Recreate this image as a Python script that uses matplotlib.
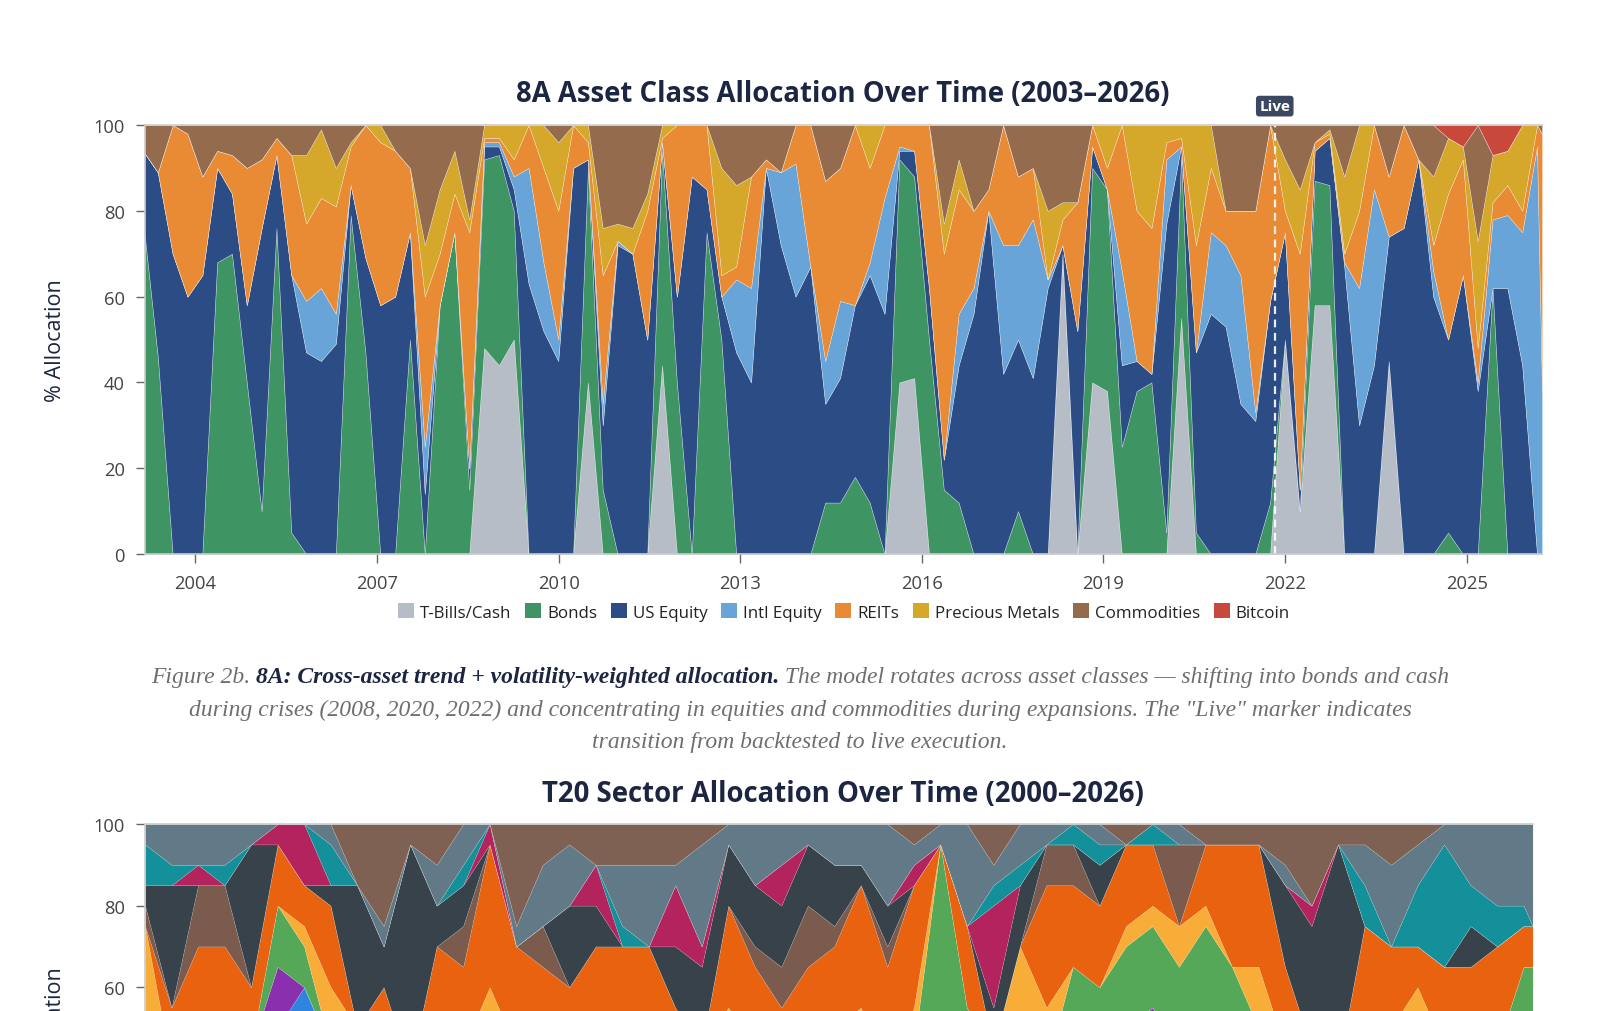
import numpy as np
import matplotlib
matplotlib.use("Agg")
import matplotlib.pyplot as plt
from matplotlib.patches import Patch

plt.rcParams['font.family'] = ['Open Sans', 'DejaVu Sans']

# ---------------- data: 8A asset-class allocation (%), quarterly-ish samples ----------------
years_top = np.append(2003.133 + 0.245 * np.arange(95), 2026.245)

cash = [0,0,0,0,0,0,0,0,0,0,
        0,0,0,0,0,0,0,0,0,0,
        0,0,0,48,44,50,0,0,0,0,
        40,0,0,0,0,44,0,0,0,0,
        0,0,0,0,0,0,0,0,0,0,
        0,40,41,0,0,0,0,0,0,0,
        0,0,70,0,40,38,0,0,0,0,
        55,0,0,0,0,0,0,50,10,58,
        58,0,0,0,45,0,0,0,0,0,
        0,0,0,0,0,0]
bonds = [78,46,0,0,0,68,70,40,10,76,
         5,0,0,0,79,47,0,0,50,0,
         58,75,15,44,49,30,0,0,0,0,
         50,15,0,0,0,50,40,0,75,50,
         0,0,0,0,0,0,12,12,18,12,
         0,52,47,50,15,12,0,0,0,10,
         0,0,0,0,50,47,25,38,40,5,
         38,5,0,0,0,0,12,0,0,29,
         28,0,0,0,0,0,0,0,5,0,
         0,62,0,0,0,0]
us_equity = [16,43,70,60,65,22,14,18,66,17,
             60,47,45,49,7,22,58,60,25,14,
             0,0,5,3,2,5,63,52,45,90,
             2,15,72,70,50,2,20,88,10,10,
             47,40,90,72,60,67,23,29,40,53,
             56,2,6,12,7,32,56,80,42,40,
             41,62,2,52,5,0,19,7,2,72,
             2,42,56,53,35,31,47,25,5,7,
             11,67,30,44,29,76,92,60,45,65,
             38,0,62,44,0,0]
intl_equity = [0,0,0,0,0,0,0,0,0,0,
               0,12,17,7,0,0,0,0,0,11,
               0,0,0,1,1,3,27,16,5,0,
               0,5,1,0,0,0,0,0,0,0,
               17,22,0,17,31,0,10,18,0,3,
               27,1,0,0,0,12,6,0,30,22,
               37,2,0,0,0,0,22,0,0,15,
               0,0,19,19,30,2,0,0,0,0,
               0,1,32,41,0,0,0,6,0,0,
               2,16,17,31,95,38]
reits = [0,0,30,38,23,4,9,32,16,4,
         28,18,21,25,9,31,38,34,15,35,
         12,9,55,1,1,4,10,22,30,10,
         4,30,0,0,30,1,40,12,15,5,
         3,26,2,0,9,33,42,31,42,22,
         17,5,6,38,48,29,18,5,28,16,
         12,0,6,30,5,5,34,35,34,4,
         2,25,15,8,15,47,41,5,55,2,
         1,2,18,15,14,24,0,6,34,27,
         8,4,7,5,5,60]
precious_metals = [0,0,0,0,0,0,0,0,0,0,
                   0,16,16,9,1,0,4,0,0,12,
                   15,10,3,3,3,8,0,10,16,0,
                   4,11,4,6,4,3,0,0,0,25,
                   19,0,0,0,0,0,0,0,0,10,
                   0,0,0,0,7,7,0,0,0,0,
                   0,16,4,0,0,10,0,20,24,4,
                   3,28,10,0,0,0,0,12,15,0,
                   1,18,20,0,0,0,0,16,13,3,
                   25,11,8,20,0,0]
commodities = [6,11,0,2,12,6,7,10,8,3,
               7,7,1,10,4,0,0,6,10,28,
               15,6,22,0,0,0,0,0,4,0,
               0,24,23,24,16,0,0,0,0,10,
               14,12,8,11,0,0,13,10,0,0,
               0,0,0,0,23,8,20,15,0,12,
               10,20,18,18,0,0,0,0,0,0,
               0,0,0,20,20,20,0,8,15,4,
               1,12,0,0,12,0,8,12,0,0,
               27,0,0,0,0,2]
bitcoin = [0,0,0,0,0,0,0,0,0,0,
           0,0,0,0,0,0,0,0,0,0,
           0,0,0,0,0,0,0,0,0,0,
           0,0,0,0,0,0,0,0,0,0,
           0,0,0,0,0,0,0,0,0,0,
           0,0,0,0,0,0,0,0,0,0,
           0,0,0,0,0,0,0,0,0,0,
           0,0,0,0,0,0,0,0,0,0,
           0,0,0,0,0,0,0,0,3,5,
           0,7,6,0,0,0]

asset_labels = ['T-Bills/Cash', 'Bonds', 'US Equity', 'Intl Equity', 'REITs',
                'Precious Metals', 'Commodities', 'Bitcoin']
asset_colors = ['#b7bdc7', '#3f9463', '#2c4c86', '#68a4d7', '#e98a35',
                '#d5a72b', '#946b4c', '#c8493c']
live_year = 2021.83
top_ticks = [2004, 2007, 2010, 2013, 2016, 2019, 2022, 2025]

# ---------------- data: T20 sector allocation (%), half-year samples ----------------
years_sec = np.append(2000.0 + 0.5 * np.arange(53), 2026.17)
sec_other  = [45,40,45,50,45,40,45,45,50,45,40,45,45,50,45,45,40,45,50,45,45,45,40,45,45,50,45,
              45,40,45,45,50,45,45,40,45,45,50,45,45,40,45,50,45,45,40,45,50,45,45,40,45,45,45]
sec_blue   = [0,0,0,0,0,10,15,0,0,0,0,0,0,0,0,0,0,0,0,0,0,0,0,0,0,0,0,
              0,0,0,0,0,0,0,0,0,0,0,5,0,0,0,0,0,0,0,0,0,0,0,0,0,0,0]
sec_purple = [0,0,0,0,0,15,0,0,0,0,0,0,0,0,0,0,0,0,0,0,0,0,0,0,0,0,0,
              0,0,0,5,0,0,0,0,0,0,0,5,0,0,0,0,0,0,0,0,0,0,0,0,0,0,0]
sec_green  = [0,0,0,0,0,15,10,0,0,0,0,0,0,0,0,0,0,0,0,0,0,0,0,0,0,0,5,
              5,0,0,45,5,0,0,0,20,15,20,20,20,35,20,0,0,0,0,0,0,0,0,0,0,20,20]
sec_amber  = [30,0,0,0,0,0,5,15,0,0,0,0,0,10,0,0,0,0,0,0,0,0,15,0,0,0,0,
              5,0,10,0,0,0,25,15,0,0,5,5,10,5,0,15,0,0,0,0,0,15,0,0,0,0,0]
sec_orange = [0,15,25,20,15,15,10,20,0,15,0,25,20,35,25,20,20,25,20,25,10,0,25,20,10,15,20,
              30,25,30,0,20,0,0,30,20,20,20,15,0,15,30,30,20,0,0,30,20,10,20,25,25,10,10]
sec_brown2 = [5,0,15,15,0,0,0,0,0,0,0,0,10,0,0,10,0,0,0,0,0,0,0,5,10,15,5,
              0,5,0,0,0,0,0,10,10,0,0,0,20,0,0,0,0,0,0,0,0,0,0,0,0,0,0]
sec_dark   = [5,30,0,0,35,0,0,5,35,10,55,10,10,0,0,0,20,10,0,0,15,20,15,15,15,15,15,
              5,10,0,0,0,10,15,0,0,10,0,0,0,0,0,0,20,30,55,0,0,0,0,10,0,0,0]
sec_pink   = [0,0,5,0,0,5,15,0,0,0,0,0,0,5,0,0,0,10,0,0,15,5,0,0,10,0,0,
              0,0,5,0,0,25,0,0,0,0,0,0,0,0,0,0,0,5,0,0,0,0,0,0,0,0,0]
sec_teal   = [10,5,0,5,0,0,0,10,0,0,0,0,5,0,0,0,0,0,5,0,0,0,0,0,0,0,0,
              0,0,0,0,0,5,5,0,5,5,0,5,0,0,0,0,0,0,0,10,0,15,30,10,10,5,0]
sec_bgrey  = [5,10,10,10,5,0,0,5,0,5,0,10,10,0,5,15,15,0,15,20,5,25,5,15,10,5,10,
              10,20,5,5,25,5,10,5,0,5,0,0,5,0,0,0,5,0,0,10,20,10,5,15,20,20,25]
sec_brown1 = [0,0,0,0,0,0,0,0,15,25,5,10,0,0,25,10,5,10,10,10,10,5,0,0,0,0,0,
              0,0,5,0,0,10,0,0,0,0,5,0,0,5,5,5,10,20,5,5,10,5,0,0,0,0,0]
sector_series = [sec_other, sec_blue, sec_purple, sec_green, sec_amber, sec_orange,
                 sec_brown2, sec_dark, sec_pink, sec_teal, sec_bgrey, sec_brown1]
sector_colors = ['#6d4c41', '#2f84e0', '#8a2fad', '#55a858', '#f8ad38', '#e8620f',
                 '#7a5b4d', '#37424a', '#b3245f', '#14909a', '#627a87', '#7f6153']

# ---------------- layout ----------------
W, H = 1598, 1012
fig = plt.figure(figsize=(W / 100, H / 100), dpi=100)
fig.patch.set_facecolor('white')


def px_axes(l, t, r, b):
    return fig.add_axes([l / W, 1 - b / H, (r - l) / W, (b - t) / H])


NAVY = '#1c2541'


def style_axes(ax, yticks):
    ax.spines['right'].set_visible(False)
    for s in ['left', 'bottom', 'top']:
        ax.spines[s].set_color('#cccccc')
        ax.spines[s].set_linewidth(1.2)
    ax.tick_params(axis='both', colors='#666666', labelcolor='#444444',
                   labelsize=13.2, length=6.5, width=1, pad=8)
    ax.set_yticks(yticks)
    ax.set_ylim(0, 100)
    ax.set_ylabel('% Allocation', fontsize=15.5, color=NAVY)


# ---- top chart ----
ax1 = px_axes(145, 126, 1542, 555)
ax1.stackplot(years_top, cash, bonds, us_equity, intl_equity, reits, precious_metals,
              commodities, bitcoin, colors=asset_colors,
              edgecolor=(1, 1, 1, 0.45), linewidth=0.4)
ax1.set_xlim(2003.166, 2026.245)
ax1.set_xticks(top_ticks)
ax1.set_xticklabels([str(y) for y in top_ticks])
style_axes(ax1, [0, 20, 40, 60, 80, 100])
ax1.yaxis.set_label_coords((66 - 145) / (1542 - 145), 0.5)
ax1.axvline(live_year, ymin=0, ymax=1, color='white', lw=1.6, ls=(0, (3.5, 2.5)), alpha=0.9)
ax1.text(live_year, 104.4, 'Live', ha='center', va='center', color='white',
         fontsize=11, fontweight='bold',
         bbox=dict(boxstyle='round,pad=0.22', fc='#3c4862', ec='none'))

fig.text(843 / W, 1 - 94 / H, '8A Asset Class Allocation Over Time (2003\u20132026)',
         ha='center', va='center', fontsize=19.8, fontweight='bold', color=NAVY)

handles = [Patch(facecolor=c, edgecolor='none') for c in asset_colors]
fig.legend(handles, asset_labels, loc='center', bbox_to_anchor=(844 / W, 1 - 613 / H),
           ncol=8, frameon=False, fontsize=12.2, handlelength=0.95, handleheight=0.95,
           handletextpad=0.35, columnspacing=0.8, labelcolor='#222222')

# ---- caption ----
SERIF = ['Liberation Serif', 'DejaVu Serif']
GREY = '#6e6e6e'
renderer = fig.canvas.get_renderer()


def centered_line(pieces, xc, yc):
    objs = []
    for txt, bold in pieces:
        t = fig.text(0, 1 - yc / H, txt, ha='left', va='center', fontsize=17,
                     family=SERIF, style='italic',
                     fontweight='bold' if bold else 'normal',
                     color=NAVY if bold else GREY)
        objs.append(t)
    widths = [o.get_window_extent(renderer).width for o in objs]
    x = xc - sum(widths) / 2
    for o, w in zip(objs, widths):
        o.set_x(x / W)
        x += w


centered_line([('Figure 2b. ', False),
               ('8A: Cross-asset trend + volatility-weighted allocation.', True),
               (' The model rotates across asset classes \u2014 shifting into bonds and cash', False)],
              800, 677)
centered_line([('during crises (2008, 2020, 2022) and concentrating in equities and commodities '
                'during expansions. The "Live" marker indicates', False)], 800, 710)
centered_line([('transition from backtested to live execution.', False)], 800, 743)

# ---- bottom chart (only its upper part lies inside the page) ----
ax2 = px_axes(145, 825, 1532.6, 1233)
ax2.stackplot(years_sec, *sector_series, colors=sector_colors,
              edgecolor=(1, 1, 1, 0.25), linewidth=0.3)
ax2.set_xlim(2000, 2026.17)
style_axes(ax2, [60, 80, 100])
ax2.set_xticks([])
ax2.yaxis.set_label_coords((66 - 145) / (1532.6 - 145), 0.5)
fig.text(843 / W, 1 - 794 / H, 'T20 Sector Allocation Over Time (2000\u20132026)',
         ha='center', va='center', fontsize=19.8, fontweight='bold', color=NAVY)

fig.savefig('out.png', dpi=100, facecolor='white')
